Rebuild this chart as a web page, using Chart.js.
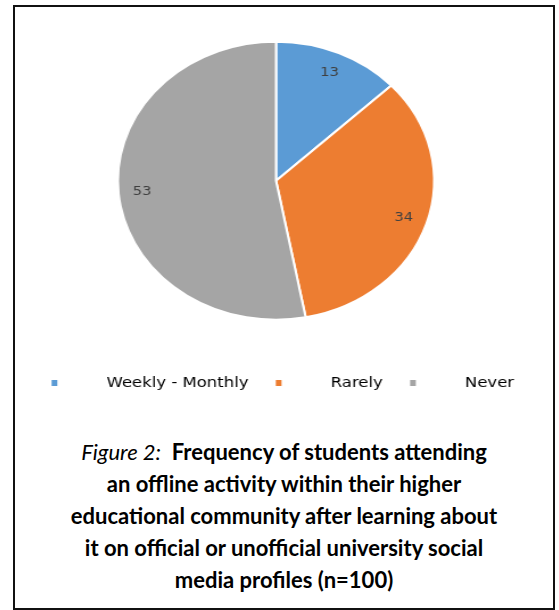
<!DOCTYPE html>
<html>
<head>
<meta charset="utf-8">
<script src="https://cdn.jsdelivr.net/npm/chart.js@4.4.1/dist/chart.umd.min.js"></script>
<style>
  html, body { margin: 0; padding: 0; background: #ffffff; }
  body { width: 559px; height: 610px; position: relative; overflow: hidden; }
  #frame { position: absolute; left: 13px; top: 5px; width: 542px; height: 605px; box-sizing: border-box; border: 2px solid #111; }
  #wrap { position: absolute; left: 15px; top: -2px; width: 473px; height: 402px; transform: scaleX(1.1374); transform-origin: 0 0; }
  #caption { position: absolute; left: 13px; top: 436px; width: 542px; text-align: center; font-family: Lato, "Open Sans", sans-serif; font-weight: 700; font-size: 22px; line-height: 32px; color: #000; }
  #caption i { font-weight: 400; }
</style>
</head>
<body>
<div id="frame"></div>
<div id="wrap"><canvas id="c" width="473" height="402" style="width:473px;height:402px"></canvas></div>
<div id="caption"><i>Figure 2:</i>&nbsp; Frequency of students attending<br>an offline activity within their higher<br>educational community after learning about<br>it on official or unofficial university social<br>media profiles (n=100)</div>
<script>
const categories = ['Weekly - Monthly', 'Rarely', 'Never'];
const values = [13, 34, 53];
const sliceColors = ['#5B9BD5', '#ED7D31', '#A5A5A5'];

function legendMarker(color) {
  const cv = document.createElement('canvas');
  cv.width = 53; cv.height = 6;
  const g = cv.getContext('2d');
  g.fillStyle = color;
  g.fillRect(12, 0, 5, 6);
  return cv;
}
const markers = sliceColors.map(legendMarker);

const sliceLabels = {
  id: 'sliceLabels',
  afterDatasetsDraw(chart) {
    const ctx = chart.ctx;
    const meta = chart.getDatasetMeta(0);
    ctx.save();
    ctx.font = '13px "DejaVu Sans"';
    ctx.fillStyle = '#404040';
    ctx.textAlign = 'center';
    ctx.textBaseline = 'middle';
    meta.data.forEach((arc, i) => {
      const p = arc.getProps(['x', 'y', 'startAngle', 'endAngle', 'outerRadius'], true);
      const mid = (p.startAngle + p.endAngle) / 2;
      const r = p.outerRadius * 0.85;
      ctx.fillText(String(chart.data.datasets[0].data[i]), p.x + Math.cos(mid) * r, p.y + Math.sin(mid) * r);
    });
    ctx.restore();
  }
};

const chart = new Chart(document.getElementById('c'), {
  type: 'pie',
  data: {
    labels: categories,
    datasets: [{
      data: values,
      backgroundColor: sliceColors,
      borderColor: '#ffffff',
      borderWidth: 2,
      radius: 139
    }]
  },
  options: {
    responsive: false,
    devicePixelRatio: 1,
    animation: false,
    layout: { padding: { top: 0, bottom: 0, left: 0, right: 14 } },
    plugins: {
      tooltip: { enabled: false },
      legend: {
        position: 'bottom',
        labels: {
          usePointStyle: true,
          pointStyleWidth: 53,
          boxHeight: 6,
          padding: 12,
          color: '#666666',
          font: { family: '"DejaVu Sans"', size: 14.5 },
          generateLabels(ch) {
            return ch.data.labels.map((t, i) => ({
              text: t,
              fillStyle: sliceColors[i],
              strokeStyle: sliceColors[i],
              lineWidth: 0,
              pointStyle: markers[i],
              hidden: false,
              index: i
            }));
          }
        }
      }
    }
  },
  plugins: [sliceLabels]
});
</script>
</body>
</html>
